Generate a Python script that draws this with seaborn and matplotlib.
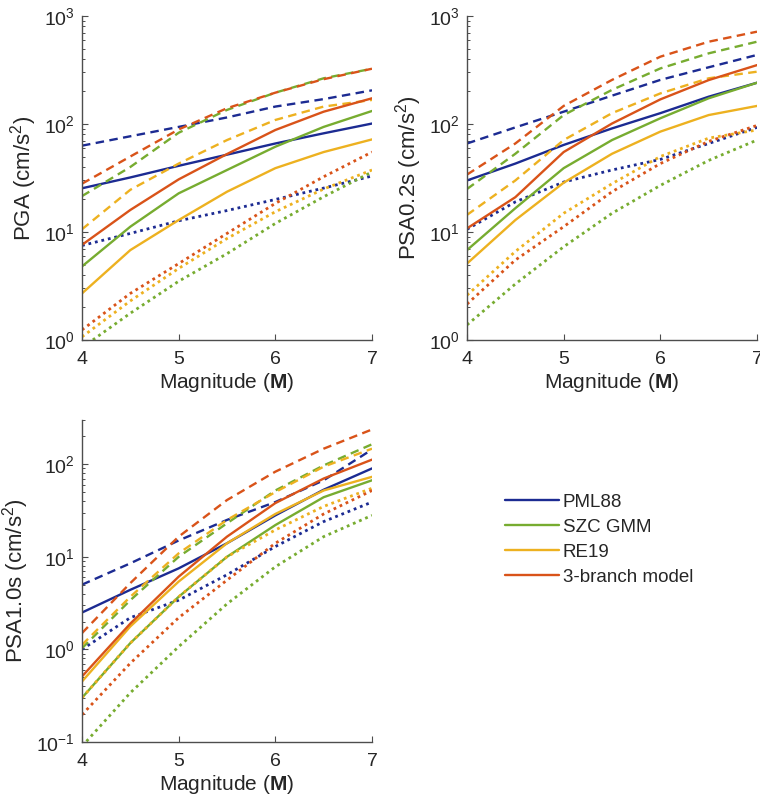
import numpy as np
import pandas as pd
import matplotlib
matplotlib.use("Agg")
import matplotlib.pyplot as plt
from matplotlib.lines import Line2D
from matplotlib.ticker import LogLocator, NullFormatter, FixedLocator
import seaborn as sns

sns.set_theme(style="white")
plt.rcParams["font.family"] = ["Liberation Sans", "DejaVu Sans"]
plt.rcParams["mathtext.fontset"] = "custom"
plt.rcParams["mathtext.rm"] = "Liberation Sans"
plt.rcParams["mathtext.it"] = "Liberation Sans:italic"
plt.rcParams["mathtext.bf"] = "Liberation Sans:bold"

# Magnitudes at which the median and +/- sigma curves are evaluated
magnitude = [4.0, 4.5, 5.0, 5.5, 6.0, 6.5, 7.0]

models = ["PML88", "SZC GMM", "RE19", "3-branch model"]
colors = {"PML88": "#1c2b92", "SZC GMM": "#77ac30",
          "RE19": "#edb120", "3-branch model": "#d95319"}

# ---- PGA (cm/s^2) ----
pga_pml_med = [25.4, 32, 41, 52, 66, 82, 101]
pga_pml_hi = [63, 77, 94, 115, 145, 170, 205]
pga_pml_lo = [7.5, 9.7, 12.7, 15.8, 20, 25.5, 33]
pga_szc_med = [4.8, 11.2, 22.8, 37.5, 61.6, 94, 132]
pga_szc_hi = [21.5, 40, 83, 135, 195, 265, 325]
pga_szc_lo = [0.85, 1.77, 3.5, 6.3, 12, 21.2, 36]
pga_re_med = [2.7, 6.8, 12.9, 23.6, 39, 55, 72]
pga_re_hi = [10.6, 24.6, 43, 71, 109, 145, 167]
pga_re_lo = [1.07, 2.3, 4.6, 8.7, 15.4, 25, 37.5]
pga_br_med = [7.6, 16, 30.7, 52.7, 88, 130, 173]
pga_br_hi = [28, 50, 89, 140, 195, 260, 325]
pga_br_lo = [1.24, 2.7, 5.1, 9.7, 18.4, 32.5, 55]

# ---- PSA 0.2 s (cm/s^2) ----
p02_pml_med = [30, 43, 64, 91, 126, 179, 241]
p02_pml_hi = [66, 93, 130, 183, 256, 335, 436]
p02_pml_lo = [10.6, 19, 29, 37.5, 47, 66, 93]
p02_szc_med = [6.8, 16.6, 39, 71, 113, 173, 241]
p02_szc_hi = [25, 53, 121, 207, 327, 451, 578]
p02_szc_lo = [1.38, 3.3, 7.3, 14.9, 27, 46, 71]
p02_re_med = [5.1, 12.9, 28.6, 53, 85, 121, 147]
p02_re_hi = [14.4, 30, 71, 126, 192, 265, 305]
p02_re_lo = [2.6, 6.6, 14.9, 28, 50, 74, 88]
p02_br_med = [10.8, 21, 55, 101, 169, 255, 351]
p02_br_hi = [34, 66, 147, 256, 420, 578, 716]
p02_br_lo = [2.15, 5.5, 11.2, 23.6, 43, 69, 97]

# ---- PSA 1.0 s (cm/s^2) ----
p10_pml_med = [2.5, 4.4, 7.5, 14, 28, 53, 90]
p10_pml_hi = [5.0, 8.5, 15, 25, 39, 67, 144]
p10_pml_lo = [1.0, 2.2, 3.4, 6.4, 12.9, 24, 39]
p10_szc_med = [0.30, 1.17, 3.7, 10, 22, 44, 67]
p10_szc_hi = [1.03, 3.4, 10, 23, 52, 97, 164]
p10_szc_lo = [0.09, 0.34, 1.07, 3.1, 7.8, 16.5, 28]
p10_re_med = [0.45, 1.77, 5.4, 14, 29, 52, 73]
p10_re_hi = [1.12, 3.7, 10.9, 25, 50, 94, 147]
p10_re_lo = [0.30, 1.17, 3.7, 10, 19.5, 35, 55]
p10_br_med = [0.51, 1.9, 6.1, 16.5, 38, 70, 112]
p10_br_hi = [1.5, 5.2, 16.5, 41, 83, 147, 237]
p10_br_lo = [0.197, 0.71, 2.2, 5.6, 14, 29, 52]

panels = [
    ("PGA", (1, 1000), {
        "PML88": (pga_pml_med, pga_pml_hi, pga_pml_lo),
        "SZC GMM": (pga_szc_med, pga_szc_hi, pga_szc_lo),
        "RE19": (pga_re_med, pga_re_hi, pga_re_lo),
        "3-branch model": (pga_br_med, pga_br_hi, pga_br_lo)}),
    ("PSA0.2s", (1, 1000), {
        "PML88": (p02_pml_med, p02_pml_hi, p02_pml_lo),
        "SZC GMM": (p02_szc_med, p02_szc_hi, p02_szc_lo),
        "RE19": (p02_re_med, p02_re_hi, p02_re_lo),
        "3-branch model": (p02_br_med, p02_br_hi, p02_br_lo)}),
    ("PSA1.0s", (0.1, 300), {
        "PML88": (p10_pml_med, p10_pml_hi, p10_pml_lo),
        "SZC GMM": (p10_szc_med, p10_szc_hi, p10_szc_lo),
        "RE19": (p10_re_med, p10_re_hi, p10_re_lo),
        "3-branch model": (p10_br_med, p10_br_hi, p10_br_lo)}),
]

W, H = 760, 805
fig = plt.figure(figsize=(W / 100, H / 100), dpi=100)
boxes = [(82, 16, 290, 324), (467, 16, 290, 324), (82, 420, 290, 322)]

lw = 1.7
styles = {"med": None, "hi": (3.6, 2.3), "lo": (1.0, 1.4)}
axis_gray = "#4d4d4d"

for (label, ylim, data), (x0, y0, w, h) in zip(panels, boxes):
    ax = fig.add_axes([x0 / W, 1 - (y0 + h) / H, w / W, h / H])
    for model in models:
        med, hi, lo = data[model]
        for key, vals in zip(["lo", "hi", "med"], [lo, hi, med]):
            dash = styles[key]
            df = pd.DataFrame({"M": magnitude, "v": vals})
            sns.lineplot(data=df, x="M", y="v", color=colors[model],
                         lw=lw + (0.3 if key == "lo" else 0), ax=ax, legend=False)
            ln = ax.lines[-1]
            if dash is not None:
                ln.set_dashes(dash)
    ax.set_yscale("log")
    ax.set_xlim(4, 7)
    ax.set_ylim(*ylim)
    ax.xaxis.set_major_locator(FixedLocator([4, 5, 6, 7]))
    ax.yaxis.set_major_locator(LogLocator(base=10, numticks=10))
    ax.yaxis.set_minor_locator(LogLocator(base=10, subs=np.arange(2, 10), numticks=20))
    ax.yaxis.set_minor_formatter(NullFormatter())
    ax.set_xlabel(r"Magnitude ($\mathbf{M}$)", fontsize=15, color="#262626", labelpad=2)
    ax.set_ylabel(label + r" (cm/s$^2$)", fontsize=16, color="#262626", labelpad=4)
    for s in ["top", "right"]:
        ax.spines[s].set_visible(False)
    for s in ["left", "bottom"]:
        ax.spines[s].set_color(axis_gray)
        ax.spines[s].set_linewidth(1.0)
    ax.tick_params(axis="both", which="both", direction="in", colors=axis_gray,
                   labelcolor="#262626", labelsize=14, left=True, bottom=True)
    ax.tick_params(axis="x", which="major", length=4, width=0.8, pad=8)
    ax.tick_params(axis="y", which="major", length=4, width=0.8, pad=5)
    ax.tick_params(axis="y", which="minor", length=2.5, width=0.7)
    ax.tick_params(axis="x", which="minor", length=0)
    ax.grid(False)

handles = [Line2D([], [], color=colors[m], lw=lw) for m in models]
fig.legend(handles, models, loc="upper left",
           bbox_to_anchor=(497 / W, 1 - 486 / H), frameon=False,
           fontsize=13.5, handlelength=2.9, handletextpad=0.2,
           labelspacing=0.42, borderaxespad=0)

fig.savefig("out.png", dpi=100, facecolor="white")
